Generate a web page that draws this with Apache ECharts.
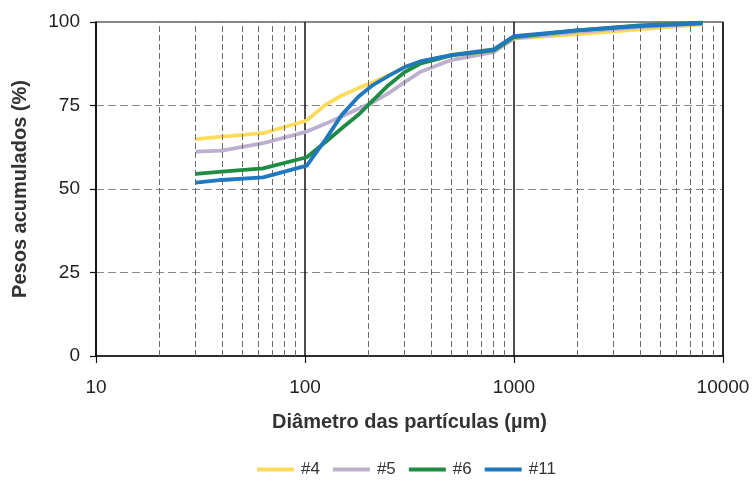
<!DOCTYPE html>
<html>
<head>
<meta charset="utf-8">
<script src="https://cdn.jsdelivr.net/npm/echarts@6/dist/echarts.min.js"></script>
<style>html,body{margin:0;padding:0;background:#fff}#c{width:753px;height:484px}</style>
</head>
<body>
<div id="c"></div>
<script>
var diameters = [30, 40, 63, 102, 125, 150, 180, 212, 250, 300, 355, 500, 800, 1000, 2000, 4000, 8000];
var s4  = [64.9, 65.7, 66.7, 70.5, 75.2, 78.0, 80.2, 82.0, 84.0, 86.5, 88.0, 90.2, 91.8, 95.0, 96.3, 97.8, 99.3];
var s5  = [61.2, 61.5, 63.7, 67.2, 69.5, 71.7, 74.0, 76.0, 78.6, 82.0, 85.0, 88.6, 91.0, 95.1, 97.0, 98.5, 99.5];
var s6  = [54.5, 55.2, 56.2, 59.5, 64.0, 68.2, 72.2, 76.6, 81.0, 85.0, 87.5, 90.0, 91.5, 95.5, 97.5, 99.0, 99.8];
var s11 = [51.9, 52.7, 53.5, 57.0, 64.7, 72.2, 77.6, 81.2, 83.8, 86.5, 88.2, 90.1, 91.8, 95.8, 97.5, 98.8, 99.6];
var seriesNames = ['#4', '#5', '#6', '#11'];
var seriesColors = ['#FDDC5C', '#BDB0CF', '#1E8C45', '#2079BF'];
var minorGrid = [20,30,40,50,60,70,80,90,200,300,400,500,600,700,800,900,2000,3000,4000,5000,6000,7000,8000,9000];
var yTicks = [0, 25, 50, 75, 100];

function pairs(vals){ return diameters.map(function(d,i){ return [d, vals[i]]; }); }
var allVals = [s4, s5, s6, s11];

var font = 'Liberation Sans, Arial, sans-serif';
var series = [{
  type: 'line', name: 'grid', data: [], silent: true, z: 1,
  markLine: {
    silent: true, symbol: 'none', animation: false,
    label: {show: false},
    lineStyle: {type: [6, 3], color: '#6a6a6a', width: 1},
    data: minorGrid.map(function(v){ return {xAxis: v}; })
  }
}];
seriesNames.forEach(function(n, i){
  series.push({
    type: 'line', name: n, data: pairs(allVals[i]), showSymbol: false, symbol: 'none',
    z: 3 + i,
    lineStyle: {color: seriesColors[i], width: 3.8},
    itemStyle: {color: seriesColors[i]}
  });
});

var chart = echarts.init(document.getElementById('c'), null, {renderer: 'canvas'});
chart.setOption({
  animation: false,
  backgroundColor: '#fff',
  grid: {left: 96, right: 30, top: 22, bottom: 128, show: true, borderColor: '#111', borderWidth: 1.2, backgroundColor: 'transparent'},
  xAxis: {
    type: 'log', logBase: 10, min: 10, max: 10000,
    name: 'Diâmetro das partículas (µm)', nameLocation: 'middle', nameGap: 56,
    nameTextStyle: {fontFamily: font, fontSize: 20, fontWeight: 'bold', color: '#333'},
    axisLine: {show: true, lineStyle: {color: '#111', width: 1.5}},
    axisTick: {show: true, length: 7, lineStyle: {color: '#111', width: 1.2}},
    axisLabel: {fontFamily: font, fontSize: 19, color: '#222', margin: 22,
      formatter: function(v){ return String(Math.round(v)); }},
    splitLine: {show: true, lineStyle: {color: '#111', width: 1.5, type: 'solid'}},
    minorTick: {show: false}
  },
  yAxis: {
    type: 'value', min: 0, max: 100, interval: 25,
    name: 'Pesos acumulados (%)', nameLocation: 'middle', nameGap: 66,
    nameTextStyle: {fontFamily: font, fontSize: 20, fontWeight: 'bold', color: '#333'},
    axisLine: {show: true, lineStyle: {color: '#111', width: 1.5}},
    axisTick: {show: true, length: 6, lineStyle: {color: '#111', width: 1.2}},
    axisLabel: {fontFamily: font, fontSize: 19, color: '#222', margin: 16},
    splitLine: {show: true, lineStyle: {color: '#888', width: 1, type: [8, 4]}}
  },
  legend: {
    data: seriesNames, top: 456, left: 252,
    icon: 'rect', itemWidth: 37, itemHeight: 4, itemGap: 13,
    textStyle: {fontFamily: font, fontSize: 17, color: '#333', padding: [0, 0, 0, 2]}
  },
  series: series
});
</script>
</body>
</html>
